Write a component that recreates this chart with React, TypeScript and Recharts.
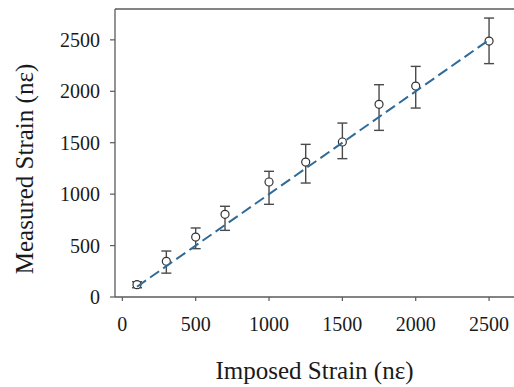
import React from "react";
import { ScatterChart, Scatter, XAxis, YAxis, ErrorBar, ReferenceLine, Label } from "recharts";

const imposed = [100, 300, 500, 700, 1000, 1250, 1500, 1750, 2000, 2500];
const measured = [120, 347, 583, 804, 1118, 1312, 1507, 1873, 2051, 2488];
const errDown = [30, 115, 113, 156, 217, 204, 162, 253, 214, 219];
const errUp = [28, 100, 88, 78, 104, 172, 184, 191, 191, 224];
const fitX = [100, 2500];
const fitY = [100, 2500];
const xTicks = [0, 500, 1000, 1500, 2000, 2500];
const yTicks = [0, 500, 1000, 1500, 2000, 2500];

const points = imposed.map((x, i) => ({ x, y: measured[i], err: [errDown[i], errUp[i]] }));
const fitLine = fitX.map((x, i) => ({ x, y: fitY[i] }));

const FONT = "Liberation Serif, Times New Roman, serif";
const AXIS = "#5a5a5a";
const TEXT = "#1a1a1a";

const Circle = (props: any) => {
  const { cx, cy } = props;
  if (cx == null || cy == null) return null;
  return <circle cx={cx} cy={cy} r={4} fill="#ffffff" stroke="#333333" strokeWidth={1.2} />;
};

const XTick = (props: any) => {
  const { x, y, payload } = props;
  return (
    <text x={x} y={y} dy="0.71em" textAnchor="middle" fill={TEXT} fontSize={20} style={{ fontFamily: FONT }}>
      {payload.value}
    </text>
  );
};

const YTick = (props: any) => {
  const { x, y, payload } = props;
  return (
    <text x={x} y={y} dy="0.355em" textAnchor="end" fill={TEXT} fontSize={20} style={{ fontFamily: FONT }}>
      {payload.value}
    </text>
  );
};

export default function App() {
  return (
    <div
      style={{
        position: "fixed",
        left: 0,
        top: 0,
        width: 514,
        height: 387,
        overflow: "hidden",
        background: "#ffffff",
        fontFamily: FONT,
      }}
    >
      <ScatterChart
        width={514}
        height={387}
        margin={{ top: 9, right: 0, bottom: 0, left: 0 }}
      >
        <XAxis
          type="number"
          dataKey="x"
          domain={[-50, 2670]}
          allowDataOverflow
          ticks={xTicks}
          height={90}
          tickSize={4}
          tickMargin={16}
          axisLine={{ stroke: AXIS, strokeWidth: 1.3 }}
          tickLine={{ stroke: AXIS, strokeWidth: 1.2 }}
          tick={<XTick />}
        >
          <Label
            value="Imposed Strain (nε)"
            position="insideBottom"
            offset={8}
            fill={TEXT}
            fontSize={25}
            fontFamily={FONT}
          />
        </XAxis>
        <YAxis
          type="number"
          dataKey="y"
          domain={[0, 2800]}
          allowDataOverflow
          ticks={yTicks}
          width={115}
          tickSize={5}
          tickMargin={10}
          axisLine={{ stroke: AXIS, strokeWidth: 1.3 }}
          tickLine={{ stroke: AXIS, strokeWidth: 1.2 }}
          tick={<YTick />}
        >
          <Label
            value="Measured Strain (nε)"
            angle={-90}
            position="insideLeft"
            offset={24}
            dy={16}
            fill={TEXT}
            fontSize={25}
            fontFamily={FONT}
            style={{ textAnchor: "middle" }}
          />
        </YAxis>
        <ReferenceLine y={2800} stroke={AXIS} strokeWidth={1.3} />
        <Scatter data={points} shape={<Circle />} isAnimationActive={false}>
          <ErrorBar dataKey="err" direction="y" width={5} stroke="#4a4a4a" strokeWidth={1.4} />
        </Scatter>
        <Scatter
          data={fitLine}
          line={{ stroke: "#2f6a98", strokeWidth: 2, strokeDasharray: "11 5" }}
          shape={() => <g />}
          isAnimationActive={false}
        />
      </ScatterChart>
    </div>
  );
}
